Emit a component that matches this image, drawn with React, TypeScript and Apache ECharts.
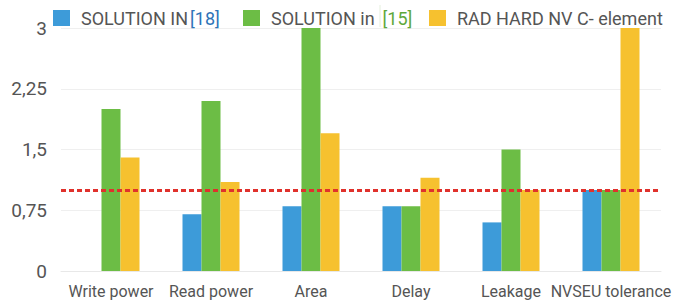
import React, { useEffect, useRef } from "react";
import * as echarts from "echarts";

const categories = ["Write power", "Read power", "Area", "Delay", "Leakage", "NVSEU tolerance"];
const seriesNames = ["SOLUTION IN[18]", "SOLUTION in [15]", "RAD HARD NV C- element"];
const solution18 = [0, 0.7, 0.8, 0.8, 0.6, 1.0];
const solution15 = [2.0, 2.1, 3.0, 0.8, 1.5, 1.0];
const radHard = [1.4, 1.1, 1.7, 1.15, 1.0, 3.0];
const referenceLevel = 1.0;
const yTicks = { min: 0, max: 3, interval: 0.75 };

const colors = ["#3d9bd9", "#6cbd45", "#f6c12f"];
const font = "Roboto, 'Liberation Sans', Arial, sans-serif";

export default function App() {
  const ref = useRef<HTMLDivElement>(null);
  useEffect(() => {
    document.body.style.margin = "0";
    const chart = echarts.init(ref.current!, null, { renderer: "svg" });
    const legendRich = {
      a: { fontSize: 18, color: "#555", fontFamily: font, padding: [0, 0, 0, 6] },
      b18: { fontSize: 18, color: "#2f74b8", fontFamily: font, padding: [0, 0, 0, 2] },
      b15: { fontSize: 18, color: "#5ea83a", fontFamily: font, padding: [0, 0, 0, 8] },
    };
    const mkLegend = (name: string, left: number, fmt: string) => ({
      data: [name],
      left,
      top: 9,
      padding: 0,
      itemWidth: 17,
      itemHeight: 16,
      icon: "rect",
      selectedMode: false,
      formatter: () => fmt,
      textStyle: { rich: legendRich, fontFamily: font },
    });
    const data = [solution18, solution15, radHard];
    chart.setOption({
      animation: false,
      textStyle: { fontFamily: font },
      legend: [
        mkLegend(seriesNames[0], 53, "{a|SOLUTION IN}{b18|[18]}"),
        mkLegend(seriesNames[1], 243, "{a|SOLUTION in}{b15|[15]}"),
        mkLegend(seriesNames[2], 429, "{a|RAD HARD NV C- element}"),
      ],
      grid: { left: 61, right: 17, top: 28, bottom: 30, containLabel: false },
      xAxis: {
        type: "category",
        data: categories,
        axisTick: { show: false },
        axisLine: { show: true, lineStyle: { color: "#e8e8e8", width: 1 } },
        axisLabel: { fontSize: 16, color: "#555", margin: 12, fontFamily: font, interval: 0 },
      },
      yAxis: {
        type: "value",
        min: yTicks.min,
        max: yTicks.max,
        interval: yTicks.interval,
        axisLine: { show: false },
        axisTick: { show: false },
        splitLine: { lineStyle: { color: "#efefef", width: 1 } },
        axisLabel: {
          fontSize: 19,
          color: "#555",
          margin: 14,
          fontFamily: font,
          formatter: (v: number) => String(v).replace(".", ","),
        },
      },
      series: data.map((d, i) => ({
        name: seriesNames[i],
        type: "bar",
        data: d,
        barWidth: 19,
        barGap: "0%",
        itemStyle: { color: colors[i] },
        ...(i === 2
          ? {
              markLine: {
                silent: true,
                symbol: ["none", "none"],
                label: { show: false },
                lineStyle: { color: "#e0312c", width: 3, type: [5, 3] },
                data: [{ yAxis: referenceLevel }],
              },
            }
          : {}),
      })),
      graphic: [
        {
          type: "line",
          shape: { x1: 380, y1: 5, x2: 380, y2: 27 },
          style: { stroke: "#e4efdc", lineWidth: 1 },
        },
      ],
    });
    return () => chart.dispose();
  }, []);
  return (
    <div
      ref={ref}
      style={{ width: 678, height: 301, position: "absolute", left: 0, top: 0 }}
    />
  );
}
